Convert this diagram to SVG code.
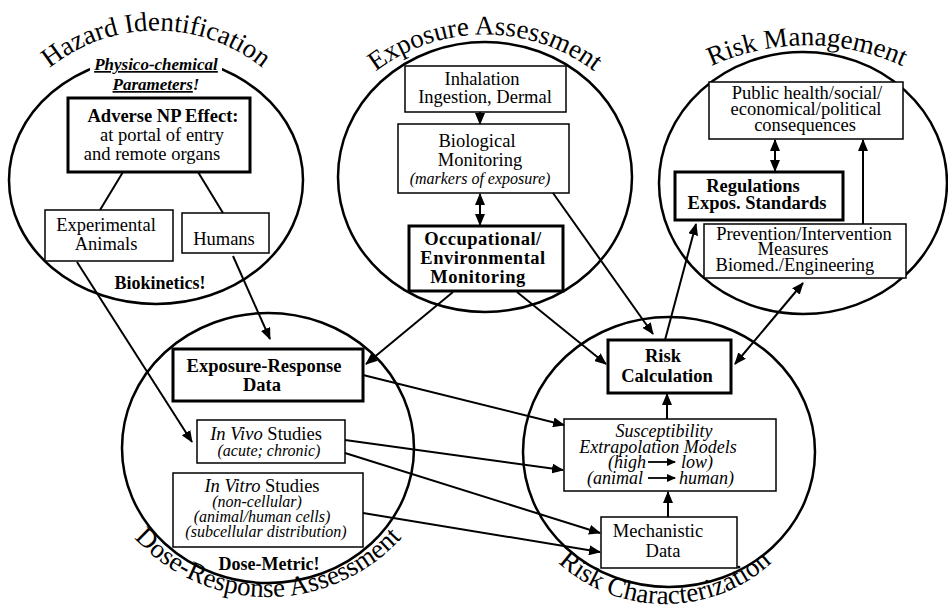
<svg xmlns="http://www.w3.org/2000/svg" width="948" height="610" viewBox="0 0 948 610" font-family="Liberation Serif, Times New Roman, serif">
<style>
text{font-family:'Liberation Serif','Times New Roman',serif;fill:#000}
.t{font-size:18.5px;text-anchor:middle}
.tb{font-size:18.5px;font-weight:bold;text-anchor:middle}
.ti{font-size:16px;font-style:italic;text-anchor:middle}
.tii{font-size:18px;font-style:italic;text-anchor:middle}
.tie{font-size:18px;font-style:italic;text-anchor:end}
.tis{font-size:18px;font-style:italic;text-anchor:start}
.note{font-size:18px;font-weight:bold;text-anchor:middle}
.pc{font-size:17px;font-weight:bold;font-style:italic;text-anchor:middle}
.title{font-size:27px}
.c{fill:none;stroke:#000;stroke-width:2.5}
.b{fill:#fff;stroke:#000;stroke-width:1.5}
.bt{fill:#fff;stroke:#000;stroke-width:3}
.ln{fill:none;stroke:#000;stroke-width:2}
.ar{fill:none;stroke:#000;stroke-width:2;marker-end:url(#ah)}
.da{fill:none;stroke:#000;stroke-width:2;marker-start:url(#ah);marker-end:url(#ah)}
.sa{fill:none;stroke:#000;stroke-width:1.8;marker-end:url(#sh)}
</style>
<defs>
<marker id="ah" markerUnits="userSpaceOnUse" markerWidth="12" markerHeight="10" refX="11" refY="5" orient="auto-start-reverse"><path d="M0,0 L12,5 L0,10 z" fill="#000"/></marker>
<marker id="sh" markerUnits="userSpaceOnUse" markerWidth="9" markerHeight="8" refX="8" refY="4" orient="auto"><path d="M0,0 L9,4 L0,8 z" fill="#000"/></marker>
<path id="p1" d="M26,91 A170,170 0 0 1 286,91"/>
<path id="p2" d="M347,99 A180,180 0 0 1 623,99"/>
<path id="p3" d="M608,160 A230,230 0 0 1 1006,160"/>
<path id="p4" d="M111,506 A181,181 0 0 0 425,506"/>
<path id="p5" d="M527,524 A159,159 0 0 0 803,524"/>
</defs>

<g id="circles">
<ellipse class="c" cx="156" cy="180" rx="147" ry="124"/>
<ellipse class="c" cx="485" cy="177" rx="147" ry="135"/>
<ellipse class="c" cx="803" cy="183" rx="144" ry="131"/>
<ellipse class="c" cx="268" cy="448" rx="146" ry="135"/>
<ellipse class="c" cx="669" cy="452" rx="146" ry="135"/>
</g>

<g id="titles">
<text class="title"><textPath href="#p1" startOffset="50%" text-anchor="middle">Hazard Identification</textPath></text>
<text class="title"><textPath href="#p2" startOffset="50%" text-anchor="middle">Exposure Assessment</textPath></text>
<text class="title"><textPath href="#p3" startOffset="50%" text-anchor="middle">Risk Management</textPath></text>
<text class="title"><textPath href="#p4" startOffset="50%" text-anchor="middle">Dose-Response Assessment</textPath></text>
<text class="title"><textPath href="#p5" startOffset="50%" text-anchor="middle">Risk Characterization</textPath></text>
</g>

<g id="hazard-notes">
<rect x="90" y="54" width="132" height="21" fill="#fff"/>
<text class="pc" x="156" y="70" text-decoration="underline">Physico-chemical</text>
<text class="pc" x="156" y="90"><tspan text-decoration="underline">Parameters</tspan>!</text>
<text class="note" x="160" y="289">Biokinetics!</text>
</g>

<g id="adverse">
<rect class="bt" x="68" y="98" width="182" height="74"/>
<text class="tb" x="163" y="122">Adverse NP Effect:</text>
<text class="t" x="162" y="141">at portal of entry</text>
<text class="t" x="152" y="160">and remote organs</text>
</g>
<g id="exp-animals">
<rect class="b" x="45" y="210" width="128" height="51"/>
<text class="t" x="106" y="231">Experimental</text>
<text class="t" x="106" y="250">Animals</text>
</g>
<g id="humans">
<rect class="b" x="182" y="213" width="87" height="40"/>
<text class="t" x="224" y="245">Humans</text>
</g>

<g id="inhalation">
<rect class="b" x="405" y="66" width="161" height="46"/>
<text class="t" x="482" y="85">Inhalation</text>
<text class="t" x="485" y="103">Ingestion, Dermal</text>
</g>
<g id="bio-monitoring">
<rect class="b" x="398" y="124" width="171" height="69"/>
<text class="t" x="477" y="147">Biological</text>
<text class="t" x="480" y="166">Monitoring</text>
<text class="ti" x="480" y="184">(markers of exposure)</text>
</g>
<g id="occupational">
<rect class="bt" x="409" y="226" width="154" height="65"/>
<text class="tb" x="483" y="245" letter-spacing="0.5">Occupational/</text>
<text class="tb" x="483" y="264" letter-spacing="0.5">Environmental</text>
<text class="tb" x="478" y="283" letter-spacing="0.5">Monitoring</text>
</g>

<g id="public-health">
<rect class="b" x="709" y="82" width="194" height="57"/>
<text class="t" x="807" y="99">Public health/social/</text>
<text class="t" x="806" y="115">economical/political</text>
<text class="t" x="805" y="131">consequences</text>
</g>
<g id="regulations">
<rect class="bt" x="675" y="172" width="168" height="48"/>
<text class="tb" x="753" y="192">Regulations</text>
<text class="tb" x="757" y="209">Expos. Standards</text>
</g>
<g id="prevention">
<rect class="b" x="704" y="224" width="202" height="54"/>
<text class="t" x="804" y="240">Prevention/Intervention</text>
<text class="t" x="793" y="255">Measures</text>
<text class="t" x="795" y="271">Biomed./Engineering</text>
</g>

<g id="exposure-response">
<rect class="bt" x="173" y="349" width="190" height="52"/>
<text class="tb" x="264" y="372">Exposure-Response</text>
<text class="tb" x="262" y="391">Data</text>
</g>
<g id="in-vivo">
<rect class="b" x="197" y="420" width="148" height="43"/>
<text class="t" x="266" y="440"><tspan font-style="italic">In Vivo</tspan> Studies</text>
<text class="ti" x="269" y="456">(acute; chronic)</text>
</g>
<g id="in-vitro">
<rect class="b" x="173" y="473" width="190" height="74"/>
<text class="t" x="262" y="492"><tspan font-style="italic">In Vitro</tspan> Studies</text>
<text class="ti" x="257" y="507">(non-cellular)</text>
<text class="ti" x="262" y="522">(animal/human cells)</text>
<text class="ti" x="266" y="537">(subcellular distribution)</text>
</g>
<g id="dose-metric">
<text class="note" x="269" y="570">Dose-Metric!</text>
</g>

<g id="risk-calculation">
<rect class="bt" x="608" y="340" width="123" height="53"/>
<text class="tb" x="663" y="362">Risk</text>
<text class="tb" x="667" y="382">Calculation</text>
</g>
<g id="susceptibility">
<rect class="b" x="564" y="419" width="212" height="72"/>
<text class="tii" x="664" y="437">Susceptibility</text>
<text class="tii" x="658" y="453">Extrapolation Models</text>
<text class="tie" x="646" y="468">(high</text>
<text class="tis" x="681" y="468">low)</text>
<text class="tie" x="643" y="484">(animal</text>
<text class="tis" x="679" y="484">human)</text>
<line class="sa" x1="648" y1="462" x2="675" y2="462"/>
<line class="sa" x1="648" y1="478" x2="675" y2="478"/>
</g>
<g id="mechanistic">
<rect class="b" x="601" y="517" width="136" height="51"/>
<text class="t" x="658" y="537">Mechanistic</text>
<text class="t" x="663" y="557">Data</text>
</g>

<g id="connectors">
<line class="ln" x1="123" y1="172" x2="100" y2="210"/>
<line class="ln" x1="198" y1="172" x2="223" y2="213"/>
<line class="ar" x1="77" y1="262" x2="192" y2="442"/>
<line class="ar" x1="233" y1="256" x2="270" y2="339"/>
<line class="ar" x1="480" y1="112" x2="480" y2="124"/>
<line class="da" x1="480" y1="194" x2="480" y2="225"/>
<line class="ar" x1="453" y1="292" x2="366" y2="364"/>
<line class="ar" x1="517" y1="292" x2="606" y2="364"/>
<line class="ar" x1="553" y1="193" x2="653" y2="334"/>
<line class="ar" x1="665" y1="340" x2="696" y2="224"/>
<line class="da" x1="735" y1="364" x2="803" y2="283"/>
<line class="ar" x1="863" y1="224" x2="863" y2="140"/>
<line class="da" x1="775" y1="140" x2="775" y2="171"/>
<line class="ar" x1="363" y1="375" x2="564" y2="425"/>
<line class="ar" x1="345" y1="440" x2="563" y2="470"/>
<line class="ar" x1="345" y1="453" x2="600" y2="533"/>
<line class="ar" x1="363" y1="513" x2="600" y2="552"/>
<line class="ar" x1="667" y1="419" x2="667" y2="394"/>
<line class="ar" x1="668" y1="517" x2="668" y2="492"/>
</g>
</svg>
